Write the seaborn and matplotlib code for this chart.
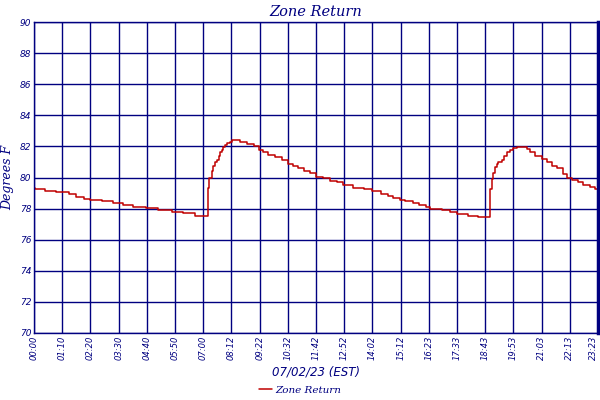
import matplotlib
matplotlib.use("Agg")
import matplotlib.pyplot as plt
import seaborn as sns
import pandas as pd

# sample index (minutes-ish, 70 samples per labelled tick) and zone return temp
sample_idx = [0, 3, 28, 55, 88, 104, 123, 139, 168, 195, 220, 246, 278, 309,
              342, 370, 400, 431, 434, 441, 445, 449, 454, 458, 462, 466, 470,
              474, 478, 487, 491, 511, 528, 545, 559, 569, 582, 599, 615, 631,
              644, 656, 669, 685, 701, 718, 735, 751, 768, 792, 818, 838, 861,
              879, 892, 909, 921, 941, 956, 974, 983, 1012, 1033, 1051, 1078,
              1103, 1132, 1136, 1140, 1145, 1149, 1153, 1161, 1167, 1173, 1182,
              1190, 1198, 1223, 1231, 1244, 1260, 1273, 1285, 1298, 1314, 1322,
              1335, 1351, 1364, 1380, 1392, 1400]
temp_f = [79.35, 79.23, 79.12, 79.05, 78.92, 78.77, 78.64, 78.58, 78.47, 78.34,
          78.21, 78.13, 78.02, 77.89, 77.76, 77.70, 77.55, 79.35, 80.00, 80.43,
          80.75, 80.97, 81.14, 81.40, 81.61, 81.78, 81.94, 82.09, 82.19, 82.30,
          82.39, 82.26, 82.15, 82.00, 81.78, 81.61, 81.46, 81.29, 81.12, 80.90,
          80.75, 80.60, 80.43, 80.26, 80.06, 79.94, 79.78, 79.68, 79.53, 79.35,
          79.25, 79.10, 78.92, 78.82, 78.67, 78.58, 78.47, 78.34, 78.21, 78.10,
          78.00, 77.89, 77.78, 77.68, 77.55, 77.44, 79.25, 79.90, 80.32, 80.65,
          80.86, 81.00, 81.14, 81.40, 81.61, 81.76, 81.89, 81.94, 81.83, 81.61,
          81.40, 81.18, 80.97, 80.75, 80.58, 80.22, 80.00, 79.85, 79.68, 79.53,
          79.42, 79.25, 79.25]

tick_labels = ["00:00", "01:10", "02:20", "03:30", "04:40", "05:50", "07:00",
               "08:12", "09:22", "10:32", "11:42", "12:52", "14:02", "15:12",
               "16:23", "17:33", "18:43", "19:53", "21:03", "22:13", "23:23"]
y_ticks = [70, 72, 74, 76, 78, 80, 82, 84, 86, 88, 90]

navy = "#000080"
red = "#c00000"

sns.set_style("white")
plt.rcParams["font.family"] = ["DejaVu Sans"]

df = pd.DataFrame({"idx": sample_idx, "temp": temp_f})

fig = plt.figure(figsize=(6, 4), dpi=100)
ax = fig.add_axes([34 / 600, 67 / 400, 564 / 600, 311 / 400])

sns.lineplot(data=df, x="idx", y="temp", ax=ax, color=red, linewidth=1.1,
             drawstyle="steps-post", label="Zone Return", legend=False)

ax.set_xlim(0, 1400)
ax.set_ylim(70, 90)
ax.set_xticks([i * 70 for i in range(len(tick_labels))])
ax.set_xticklabels(tick_labels, rotation=90, fontsize=6, style="italic",
                   color=navy)
# keep the last label inside the canvas
ax.get_xticklabels()[-1].set_horizontalalignment("right")
ax.set_yticks(y_ticks)
ax.set_yticklabels([str(v) for v in y_ticks], fontsize=6.5, style="italic",
                   color=navy)
ax.tick_params(length=0, pad=2)
ax.grid(True, color=navy, linewidth=1.0)
ax.set_axisbelow(True)
for s in ax.spines.values():
    s.set_color(navy)
    s.set_linewidth(1.0)
ax.spines["right"].set_linewidth(2.5)

ax.set_title("Zone Return", family="DejaVu Serif", style="italic",
             fontsize=10.5, color=navy, pad=4)
ax.set_xlabel("07/02/23 (EST)", style="italic", fontsize=8.5, color=navy,
              labelpad=4)
ax.set_ylabel("Degrees F", family="DejaVu Serif", style="italic",
              fontsize=9, color=navy, labelpad=4)

handles, labels = ax.get_legend_handles_labels()
fig.legend(handles, labels, loc="lower center", bbox_to_anchor=(0.5, -0.01),
           frameon=False, handlelength=1.2, handletextpad=0.3,
           prop={"family": "DejaVu Serif", "style": "italic", "size": 7.5},
           labelcolor=navy)

fig.savefig("out.png", dpi=100)
